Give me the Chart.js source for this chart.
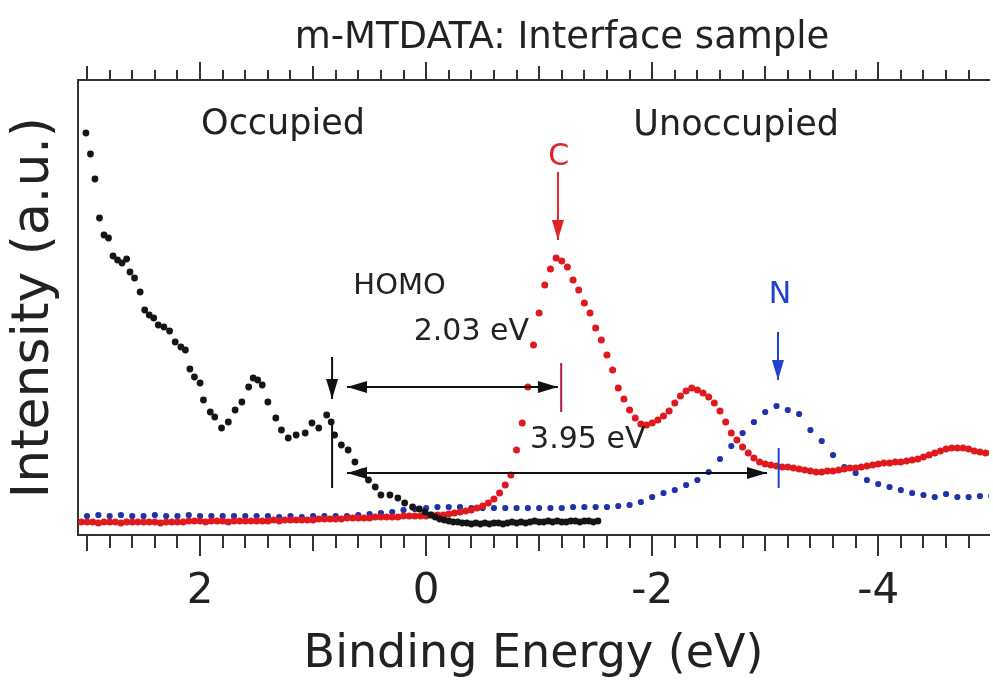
<!DOCTYPE html>
<html lang="en">
<head>
<meta charset="UTF-8">
<title>m-MTDATA: Interface sample</title>
<script src="https://cdn.jsdelivr.net/npm/chart.js@4"></script>
<style>
  body { margin: 0; background: #fff; }
  canvas { display: block; }
</style>
</head>
<body>
<canvas id="spectrum" width="993" height="693"></canvas>
<script>
// [binding energy (eV), intensity (a.u.)]
const occupied = [
  [3.01,402],[2.97,381],[2.93,356],[2.89,317],[2.85,300],[2.81,297],[2.77,279],[2.73,275],
  [2.69,272],[2.65,276],[2.62,263],[2.58,257],[2.53,243],[2.49,225],[2.45,220],[2.41,217],
  [2.37,210],[2.32,208],[2.27,204],[2.22,193],[2.17,188],[2.13,185],[2.09,166],[2.05,158],
  [2.00,152],[1.97,135],[1.91,123],[1.87,118],[1.81,107],[1.75,113],[1.69,125],[1.63,133],
  [1.57,148],[1.53,157],[1.49,155],[1.45,150],[1.40,133],[1.33,117],[1.28,105],[1.22,97],
  [1.15,100],[1.07,102],[1.01,112],[0.95,107],[0.88,120],[0.84,113],[0.81,100],[0.75,90],
  [0.69,85],[0.63,73],[0.57,63],[0.51,55],[0.45,48],[0.40,40],[0.32,40],[0.25,37],
  [0.19,32],[0.12,28],[0.06,26],[0.01,23],[-0.04,20],[-0.08,18],[-0.12,16],[-0.16,15],
  [-0.20,14],[-0.24,13],[-0.28,13],[-0.32,12],[-0.36,12],[-0.40,11],[-0.44,12],[-0.48,11],
  [-0.52,12],[-0.56,11],[-0.60,12],[-0.64,12],[-0.68,11],[-0.72,12],[-0.76,13],[-0.80,12],
  [-0.84,13],[-0.88,12],[-0.92,13],[-0.96,14],[-1.00,13],[-1.04,13],[-1.08,14],[-1.12,13],
  [-1.16,14],[-1.20,13],[-1.24,13],[-1.28,14],[-1.32,14],[-1.36,13],[-1.40,14],[-1.44,14],
  [-1.48,13],[-1.52,14]
];

const unoccupiedC = [
  [3.05,13],[3.00,13],[2.95,13],[2.90,12],[2.85,13],[2.80,13],[2.75,13],[2.70,12],
  [2.65,13],[2.60,13],[2.55,13],[2.50,13],[2.45,13],[2.40,13],[2.35,12],[2.30,13],
  [2.25,13],[2.20,13],[2.15,13],[2.10,14],[2.05,14],[2.00,14],[1.95,13],[1.90,14],
  [1.85,14],[1.80,14],[1.75,13],[1.70,14],[1.65,14],[1.60,14],[1.55,14],[1.50,14],
  [1.45,14],[1.40,14],[1.35,15],[1.30,14],[1.25,15],[1.20,15],[1.15,15],[1.10,15],
  [1.05,15],[1.00,15],[0.95,16],[0.90,16],[0.85,16],[0.80,16],[0.75,16],[0.70,17],
  [0.65,17],[0.60,17],[0.55,17],[0.50,17],[0.45,18],[0.40,18],[0.35,18],[0.30,18],
  [0.25,18],[0.20,19],[0.15,19],[0.10,19],[0.05,19],[0.00,19],[-0.05,20],[-0.10,20],
  [-0.15,20],[-0.20,21],[-0.25,22],[-0.30,23],[-0.35,24],[-0.40,25],[-0.45,27],[-0.50,29],
  [-0.55,32],[-0.60,36],[-0.65,42],[-0.70,50],[-0.75,60],[-0.80,85],[-0.85,112],[-0.90,148],
  [-0.95,190],[-1.00,222],[-1.05,250],[-1.10,266],[-1.15,277],[-1.20,274],[-1.25,268],[-1.30,255],
  [-1.35,245],[-1.40,232],[-1.45,222],[-1.50,207],[-1.55,195],[-1.60,180],[-1.65,165],[-1.70,147],
  [-1.75,136],[-1.80,125],[-1.85,117],[-1.90,111],[-1.95,110],[-2.00,112],[-2.05,115],[-2.10,119],
  [-2.15,124],[-2.20,132],[-2.25,139],[-2.30,144],[-2.35,147],[-2.40,145],[-2.45,142],[-2.50,138],
  [-2.55,132],[-2.60,124],[-2.65,113],[-2.70,102],[-2.75,95],[-2.80,88],[-2.85,82],[-2.90,77],
  [-2.95,73],[-3.00,71],[-3.05,70],[-3.10,69],[-3.15,68],[-3.20,68],[-3.25,67],[-3.30,66],
  [-3.35,65],[-3.40,64],[-3.45,63],[-3.50,63],[-3.55,64],[-3.60,64],[-3.65,65],[-3.70,66],
  [-3.75,67],[-3.80,67],[-3.85,68],[-3.90,69],[-3.95,70],[-4.00,71],[-4.05,72],[-4.10,72],
  [-4.15,73],[-4.20,73],[-4.25,74],[-4.30,75],[-4.35,76],[-4.40,78],[-4.45,80],[-4.50,82],
  [-4.55,84],[-4.60,86],[-4.65,87],[-4.70,87],[-4.75,87],[-4.80,86],[-4.85,84],[-4.90,83],
  [-4.95,82],[-5.00,82]
];

const unoccupiedN = [
  [3.0,19],[2.9,20],[2.8,19],[2.7,20],[2.6,19],[2.5,19],[2.4,20],[2.3,19],[2.2,19],[2.1,20],
  [2.0,19],[1.9,19],[1.8,19],[1.7,19],[1.6,19],[1.5,19],[1.4,19],[1.3,18],[1.2,19],[1.1,18],
  [1.0,19],[0.9,19],[0.8,19],[0.7,19],[0.6,20],[0.5,21],[0.4,22],[0.3,23],[0.2,25],[0.1,26],
  [0.0,27],[-0.1,28],[-0.2,28],[-0.3,28],[-0.4,27],[-0.5,27],[-0.6,27],[-0.7,27],[-0.8,27],[-0.9,27],
  [-1.0,27],[-1.1,27],[-1.2,27],[-1.3,28],[-1.4,28],[-1.5,28],[-1.6,28],[-1.7,29],[-1.8,30],[-1.9,33],
  [-2.0,38],[-2.1,42],[-2.2,45],[-2.3,50],[-2.4,55],[-2.5,63],[-2.6,76],[-2.7,89],[-2.8,102],[-2.9,113],
  [-3.0,123],[-3.1,129],[-3.2,125],[-3.3,121],[-3.4,105],[-3.5,94],[-3.6,80],[-3.7,68],[-3.8,62],[-3.9,55],
  [-4.0,51],[-4.1,48],[-4.2,45],[-4.3,42],[-4.4,40],[-4.5,38],[-4.6,41],[-4.7,38],[-4.8,38],[-4.9,39],
  [-5.0,39]
];

const xTickValues = [2, 0, -2, -4];
const xTickLabels = ['2', '0', '-2', '-4'];

// annotations, in data units
const arrowMarks = [
  { x1: 0.70, y1: 148, x2: -1.166, y2: 148, color: '#111', both: true },
  { x1: 0.70, y1: 62, x2: -3.016, y2: 62, color: '#111', both: true },
  { x1: 0.832, y1: 178, x2: 0.832, y2: 136, color: '#111', both: false },
  { x1: -1.166, y1: 363, x2: -1.166, y2: 295, color: '#e0232b', both: false },
  { x1: -3.113, y1: 203, x2: -3.113, y2: 155, color: '#2040d0', both: false }
];
const lineMarks = [
  { x: 0.832, y1: 47, y2: 113, color: '#111' },
  { x: -1.195, y1: 123, y2: 172, color: '#b01a45' },
  { x: -3.119, y1: 47, y2: 87, color: '#2040d0' }
];
const textMarks = [
  { text: 'Occupied', x: 1.266, y: 410, size: 35, color: '#222' },
  { text: 'Unoccupied', x: -2.743, y: 409, size: 35, color: '#222' },
  { text: 'C', x: -1.174, y: 378, size: 30, color: '#e0232b' },
  { text: 'N', x: -3.13, y: 240, size: 30, color: '#2040d0' },
  { text: 'HOMO', x: 0.235, y: 249, size: 29, color: '#222' },
  { text: '2.03 eV', x: -0.40, y: 203, size: 30, color: '#222' },
  { text: '3.95 eV', x: -1.43, y: 95, size: 30, color: '#222' }
];

Chart.defaults.font.family = '"DejaVu Sans", Verdana, sans-serif';
Chart.defaults.color = '#222';

function drawArrow(ctx, x1, y1, x2, y2, color, both) {
  const ang = Math.atan2(y2 - y1, x2 - x1);
  const len = 20, half = 6;
  ctx.strokeStyle = color;
  ctx.fillStyle = color;
  ctx.lineWidth = 2;
  ctx.beginPath();
  ctx.moveTo(x1, y1);
  ctx.lineTo(x2, y2);
  ctx.stroke();
  const head = (tx, ty, a) => {
    ctx.beginPath();
    ctx.moveTo(tx, ty);
    ctx.lineTo(tx - len * Math.cos(a) + half * Math.sin(a), ty - len * Math.sin(a) - half * Math.cos(a));
    ctx.lineTo(tx - len * Math.cos(a) - half * Math.sin(a), ty - len * Math.sin(a) + half * Math.cos(a));
    ctx.closePath();
    ctx.fill();
  };
  head(x2, y2, ang);
  if (both) head(x1, y1, ang + Math.PI);
}

const decorations = {
  id: 'decorations',
  afterDatasetsDraw(chart) {
    const { ctx, chartArea: area, scales: { x, y } } = chart;
    const X = v => x.getPixelForValue(v);
    const Y = v => y.getPixelForValue(v);
    ctx.save();

    // tick marks every 0.2 eV on top and bottom axes
    ctx.strokeStyle = '#333';
    ctx.lineWidth = 2;
    for (let i = -24; i <= 15; i++) {
      const px = Math.round(X(i / 5));
      const major = i % 10 === 0, mid = i % 5 === 0;
      const up = major ? 18 : mid ? 14 : 10;
      const down = major ? 21 : mid ? 16 : 13;
      ctx.beginPath();
      ctx.moveTo(px, area.top);
      ctx.lineTo(px, area.top - up);
      ctx.moveTo(px, area.bottom);
      ctx.lineTo(px, area.bottom + down);
      ctx.stroke();
    }

    lineMarks.forEach(m => {
      ctx.strokeStyle = m.color;
      ctx.lineWidth = 2;
      ctx.beginPath();
      ctx.moveTo(X(m.x), Y(m.y1));
      ctx.lineTo(X(m.x), Y(m.y2));
      ctx.stroke();
    });
    arrowMarks.forEach(a => drawArrow(ctx, X(a.x1), Y(a.y1), X(a.x2), Y(a.y2), a.color, a.both));

    ctx.textAlign = 'center';
    ctx.textBaseline = 'middle';
    textMarks.forEach(t => {
      ctx.font = t.size + 'px "DejaVu Sans"';
      ctx.fillStyle = t.color;
      ctx.fillText(t.text, X(t.x), Y(t.y));
    });

    // figure title
    ctx.font = '37px "DejaVu Sans"';
    ctx.fillStyle = '#222';
    ctx.fillText('m-MTDATA: Interface sample', 562, 38);
    ctx.restore();
  }
};

const toPoints = arr => arr.map(([x, y]) => ({ x, y }));

new Chart(document.getElementById('spectrum'), {
  type: 'scatter',
  data: {
    datasets: [
      { label: 'Occupied', data: toPoints(occupied), backgroundColor: '#151515', pointRadius: 3.4, pointBorderWidth: 0 },
      { label: 'C', data: toPoints(unoccupiedC), backgroundColor: '#e0191f', pointRadius: 3.5, pointBorderWidth: 0 },
      { label: 'N', data: toPoints(unoccupiedN), backgroundColor: '#1f33a8', pointRadius: 3.1, pointBorderWidth: 0 }
    ]
  },
  options: {
    responsive: false,
    animation: false,
    layout: { padding: 0 },
    plugins: {
      legend: { display: false },
      tooltip: { enabled: false },
      title: { display: false }
    },
    scales: {
      x: {
        type: 'linear',
        position: 'bottom',
        reverse: true,
        min: -4.98,
        max: 3.08,
        afterFit: s => { s.height = 158; },
        afterBuildTicks: s => { s.ticks = xTickValues.map(v => ({ value: v })); },
        grid: { display: false },
        border: { display: true, color: '#333', width: 2 },
        ticks: {
          padding: 24,
          color: '#222',
          font: { size: 42 },
          callback: (v, i) => xTickLabels[i]
        },
        title: {
          display: true,
          text: 'Binding Energy (eV)',
          color: '#222',
          font: { size: 46 },
          padding: { top: 0, bottom: 10 }
        }
      },
      xTop: {
        type: 'linear',
        position: 'top',
        reverse: true,
        min: -4.98,
        max: 3.08,
        afterFit: s => { s.height = 80; },
        grid: { display: false },
        border: { display: true, color: '#333', width: 2 },
        ticks: { display: false }
      },
      y: {
        type: 'linear',
        min: 0,
        max: 455,
        afterFit: s => { s.width = 78; },
        grid: { display: false },
        border: { display: true, color: '#333', width: 2 },
        ticks: { display: false },
        title: {
          display: true,
          text: 'Intensity (a.u.)',
          color: '#222',
          font: { size: 52 },
          padding: { top: 3, bottom: 0 }
        }
      }
    }
  },
  plugins: [decorations]
});
</script>
</body>
</html>
